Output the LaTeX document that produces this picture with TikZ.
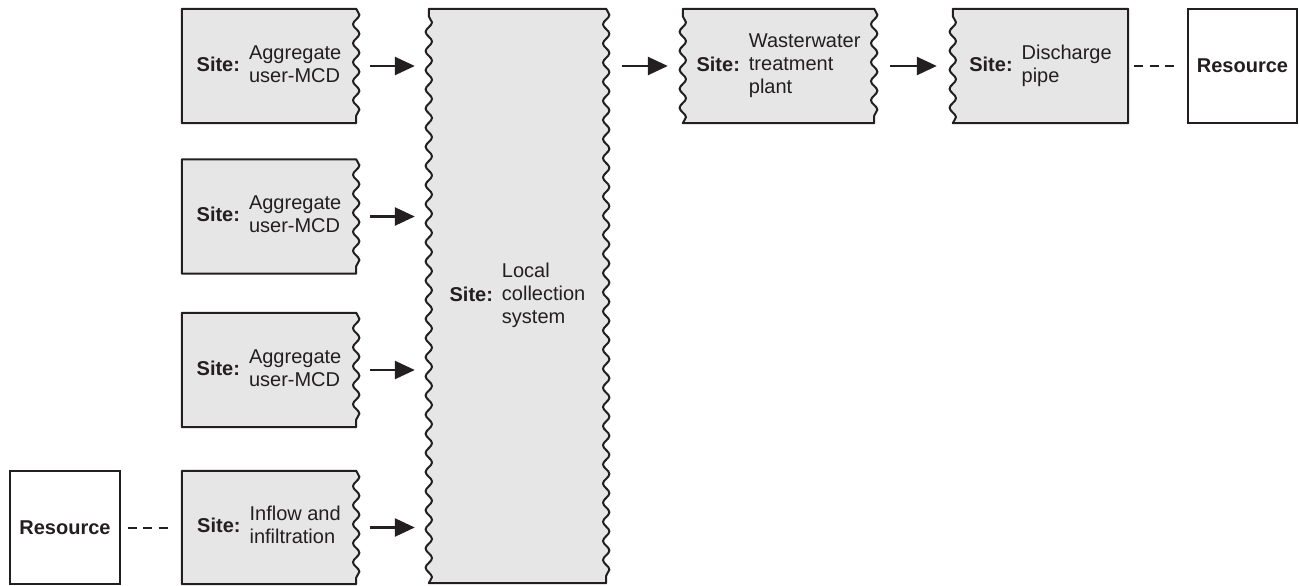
\documentclass[tikz,border=0pt]{standalone}
\usepackage{fontspec}
\setmainfont{Liberation Sans}
\usetikzlibrary{decorations.pathmorphing,arrows.meta,backgrounds}
\definecolor{boxgray}{HTML}{E6E6E6}
\definecolor{ink}{HTML}{231F20}
\newcommand{\sitetext}[1]{\textbf{Site:}\hspace{9pt}\begin{tabular}[c]{@{}l@{}}#1\end{tabular}}
\tikzset{
  holder/.style={rectangle, inner sep=0pt, text=ink, font=\fontsize{20}{23}\selectfont},
  sitebox/.style={fill=boxgray, draw=ink, line width=2pt, line join=round},
  resbox/.style={fill=white, draw=ink, line width=2pt},
  wavyR/.style={decoration={snake, segment length=#1, amplitude=3.2pt}},
  wavyL/.style={decoration={snake, segment length=#1, amplitude=-3.2pt}},
  flow/.style={draw=ink, line width=2.5pt, -{Triangle[length=20pt,width=18pt]}},
  link/.style={draw=ink, line width=2pt, dash pattern=on 9pt off 6.5pt}
}
\begin{document}
\begin{tikzpicture}[x=1pt,y=-1pt]
\useasboundingbox (0,0) rectangle (1299,586);

% nodes (text holders)
\node[holder, minimum width=174pt, minimum height=114pt] (b1) at (269,66) {\sitetext{Aggregate\\user-MCD}};
\node[holder, minimum width=174pt, minimum height=114pt] (b2) at (269,216.5) {\sitetext{Aggregate\\user-MCD}};
\node[holder, minimum width=174pt, minimum height=114pt] (b3) at (269,370) {\sitetext{Aggregate\\user-MCD}};
\node[holder, minimum width=174pt, minimum height=113pt] (b4) at (269,527.5) {\sitetext{Inflow and\\infiltration}};
\node[holder, minimum width=177pt, minimum height=574pt] (loc) at (517.5,296) {\sitetext{Local\\collection\\system}};
\node[holder, minimum width=191pt, minimum height=114pt] (wwtp) at (778.5,66) {\sitetext{Wasterwater\\treatment\\plant}};
\node[holder, minimum width=175pt, minimum height=114pt] (dp) at (1040.5,66) {\sitetext{Discharge\\pipe}};
\node[holder, minimum width=109pt, minimum height=114pt] (resR) at (1242.5,66) {\textbf{Resource}};
\node[holder, minimum width=110pt, minimum height=113pt] (resL) at (65,527.5) {\textbf{Resource}};

\begin{scope}[on background layer]
  \foreach \n in {b1,b2,b3,b4}{
    \path[sitebox] (\n.north west) -- (\n.north east)
      decorate[wavyR=19pt] { -- (\n.south east) } -- (\n.south west) -- cycle;
  }
  \path[sitebox] (loc.north west) -- (loc.north east)
    decorate[wavyR=19.133pt] { -- (loc.south east) } -- (loc.south west)
    decorate[wavyL=19.133pt] { -- (loc.north west) } -- cycle;
  \path[sitebox] (wwtp.north west) -- (wwtp.north east)
    decorate[wavyR=19pt] { -- (wwtp.south east) } -- (wwtp.south west)
    decorate[wavyL=19pt] { -- (wwtp.north west) } -- cycle;
  \path[sitebox] (dp.north west) -- (dp.north east)
    -- (dp.south east) -- (dp.south west)
    decorate[wavyL=19pt] { -- (dp.north west) } -- cycle;
  \path[resbox] (resR.north west) rectangle (resR.south east);
  \path[resbox] (resL.north west) rectangle (resL.south east);
\end{scope}

% connectors
\foreach \n in {b1,b2,b3,b4}{
  \draw[flow, shorten <=14pt, shorten >=14pt] (\n.east) -- (\n.east -| loc.west);
}
\draw[flow, shorten <=16pt, shorten >=15pt] (loc.east |- wwtp.west) -- (wwtp.west);
\draw[flow, shorten <=16pt, shorten >=16pt] (wwtp.east) -- (dp.west);
\draw[link, shorten <=6pt, shorten >=14pt] (dp.east) -- (resR.west);
\draw[link, shorten <=7.5pt, shorten >=14pt] (resL.east) -- (b4.west);
\end{tikzpicture}
\end{document}
